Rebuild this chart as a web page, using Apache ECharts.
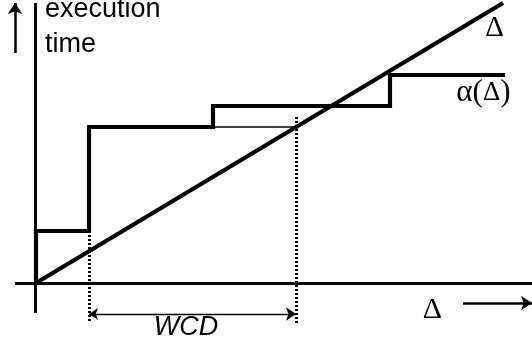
<!DOCTYPE html>
<html>
<head>
<meta charset="utf-8">
<script src="https://cdn.jsdelivr.net/npm/echarts@6/dist/echarts.min.js"></script>
<style>html,body{margin:0;padding:0;background:#fff}#c{width:532px;height:345px}</style>
</head>
<body>
<div id="c"></div>
<script>
// alpha(Δ) staircase: breakpoints (x) and levels (y)
const alphaX = [0, 0, 53, 177, 354, 467];
const alphaY = [0, 52, 156, 177, 208, 208];
// Δ diagonal line
const deltaX = [0, 467];
const deltaY = [0, 280];
// thin horizontal guide at the level 156
const guideX = [177, 260];
const guideY = [156, 156];
// dotted verticals (x, top, bottom)
const dotX = [53, 260];
const dotTop = [52, 166];
const dotBottom = [-40, -40];
// WCD span
const wcdStart = 53, wcdEnd = 260, wcdLevel = -31;
// coordinate axes [x1,y1,x2,y2]
const hAxis = [-21, 0, 496, 0];
const vAxis = [-1, -30, -1, 280];
// axis direction arrows [x1,y1,x2,y2]
const upArrow = [-21, 230, -21, 280];
const rightArrow = [427, -20, 496, -20];
// text labels
const labelText = ['execution\ntime', 'Δ', '{a|α(}{d|Δ}{a|)}', 'Δ', 'WCD'];
const labelX = [9, 458.5, 447.5, 396.5, 150];
const labelY = [256, 255, 190, -27, -44];

const chart = echarts.init(document.getElementById('c'), null, {renderer: 'canvas'});
const pts = (xs, ys) => xs.map((x, i) => [x, ys[i]]);
const serif = 'Liberation Serif, Times New Roman, serif';
const sans = 'Liberation Sans, Arial, sans-serif';
const labelStyles = [
  {fontFamily: sans, fontSize: 27, lineHeight: 35, align: 'left'},
  {fontFamily: serif, fontSize: 29, align: 'center'},
  {fontFamily: serif, fontSize: 30, align: 'center',
   rich: {a: {fontFamily: serif, fontSize: 31, color: '#000'}, d: {fontFamily: serif, fontSize: 27, color: '#000'}}},
  {fontFamily: serif, fontSize: 30, align: 'center'},
  {fontFamily: sans, fontSize: 27, fontStyle: 'italic', align: 'center'}
];
const seg = a => ({coords: [[a[0], a[1]], [a[2], a[3]]]});
chart.setOption({
  animation: false,
  grid: {left: 0, right: 0, top: 0, bottom: 0},
  xAxis: {type: 'value', min: -36, max: 496, show: false},
  yAxis: {type: 'value', min: -62, max: 283, show: false},
  series: [
    {type: 'lines', coordinateSystem: 'cartesian2d', silent: true,
     data: [seg(hAxis), seg(vAxis)],
     lineStyle: {color: '#000', width: 3, opacity: 1}},
    {type: 'line', step: 'end', data: pts(alphaX, alphaY), symbol: 'none', silent: true,
     lineStyle: {color: '#000', width: 4.2, cap: 'square', join: 'miter'}},
    {type: 'line', data: pts(deltaX, deltaY), symbol: 'none', silent: true,
     lineStyle: {color: '#000', width: 4.2}},
    {type: 'line', data: pts(guideX, guideY), symbol: 'none', silent: true,
     lineStyle: {color: '#000', width: 1.3}},
    {type: 'lines', coordinateSystem: 'cartesian2d', silent: true,
     data: dotX.map((x, i) => ({coords: [[x, dotTop[i]], [x, dotBottom[i]]]})),
     lineStyle: {color: '#000', width: 3, type: [2, 2], opacity: 1}},
    {type: 'lines', coordinateSystem: 'cartesian2d', silent: true,
     symbol: ['arrow', 'arrow'], symbolSize: [9, 10],
     data: [{coords: [[wcdStart, wcdLevel], [wcdEnd, wcdLevel]]}],
     lineStyle: {color: '#000', width: 1.3, opacity: 1}},
    {type: 'lines', coordinateSystem: 'cartesian2d', silent: true,
     symbol: ['none', 'arrow'], symbolSize: [10, 11],
     data: [seg(upArrow), seg(rightArrow)],
     lineStyle: {color: '#000', width: 2.5, opacity: 1}},
    {type: 'scatter', symbolSize: 0, silent: true, itemStyle: {opacity: 1},
     data: labelText.map((t, i) => ({value: [labelX[i], labelY[i]],
       label: Object.assign({show: true, position: 'inside', formatter: t, color: '#000', verticalAlign: 'middle'}, labelStyles[i])}))}
  ]
});
</script>
</body>
</html>
